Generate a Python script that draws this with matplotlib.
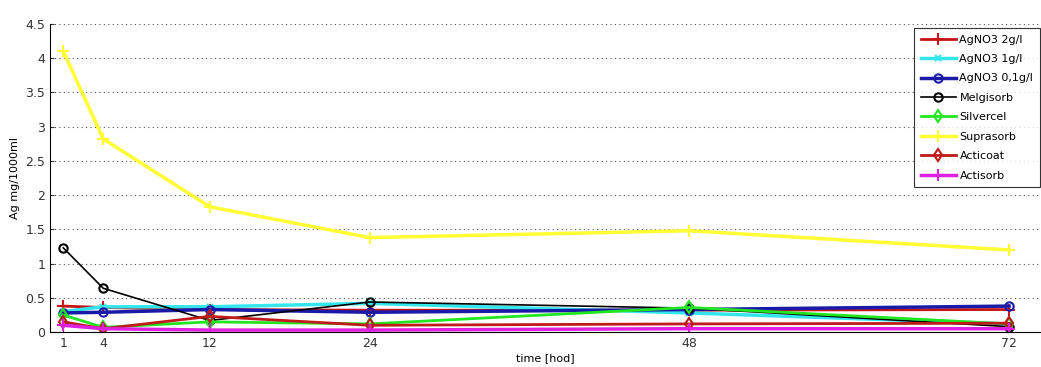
import matplotlib
matplotlib.use("Agg")
import matplotlib.pyplot as plt

# ── data ──────────────────────────────────────────────────────────────────────
hours = [1, 4, 12, 24, 48, 72]

agno3_2 = [0.38, 0.36, 0.33, 0.32, 0.32, 0.33]
agno3_1 = [0.30, 0.37, 0.37, 0.42, 0.28, 0.12]
agno3_01 = [0.28, 0.29, 0.33, 0.29, 0.33, 0.38]
melgisorb = [1.23, 0.64, 0.17, 0.44, 0.35, 0.08]
silvercel = [0.25, 0.07, 0.15, 0.12, 0.36, 0.12]
suprasorb = [4.10, 2.82, 1.83, 1.38, 1.48, 1.20]
acticoat = [0.15, 0.05, 0.23, 0.10, 0.12, 0.13]
actisorb = [0.10, 0.05, 0.03, 0.03, 0.05, 0.05]

names = ["AgNO3 2g/l", "AgNO3 1g/l", "AgNO3 0,1g/l", "Melgisorb",
         "Silvercel", "Suprasorb", "Acticoat", "Actisorb"]
series = [agno3_2, agno3_1, agno3_01, melgisorb,
          silvercel, suprasorb, acticoat, actisorb]

styles = [
    dict(color="#c81414", marker="+", lw=2.0, ms=8),
    dict(color="#33e6ee", marker="x", lw=2.5, ms=5),
    dict(color="#1a1aa8", marker="o", lw=2.5, ms=6, mfc="none"),
    dict(color="black", marker="o", lw=1.2, ms=6, mfc="none"),
    dict(color="#22e622", marker="d", lw=2.0, ms=6, mfc="none"),
    dict(color="#ffff33", marker="+", lw=2.5, ms=9),
    dict(color="#c01a1a", marker="d", lw=2.0, ms=6, mfc="none"),
    dict(color="#e020e0", marker="+", lw=2.5, ms=8),
]

fig = plt.figure(figsize=(10.41, 3.67), dpi=100)
ax = fig.add_axes([0.048, 0.095, 0.952, 0.84])

for name, vals, st in zip(names, series, styles):
    ax.plot(hours, vals, label=name, mew=1.5, **st)

ax.set_xlim(0, 74.4)
ax.set_ylim(0, 4.5)
ax.set_xticks(hours)
ax.set_yticks([0, 0.5, 1, 1.5, 2, 2.5, 3, 3.5, 4, 4.5])
ax.set_yticklabels(["0", "0.5", "1", "1.5", "2", "2.5", "3", "3.5", "4", "4.5"])
ax.tick_params(labelsize=9, direction="in", length=3, colors="#333333")
ax.yaxis.grid(True, linestyle=(0, (1, 3)), color="#555555", lw=0.8)
ax.spines["top"].set_visible(False)
ax.spines["right"].set_visible(False)

ax.set_xlabel("time [hod]", fontsize=8, labelpad=2)
ax.set_ylabel("Ag mg/1000ml", fontsize=8, labelpad=4)

leg = ax.legend(loc="upper right", bbox_to_anchor=(0.999, 0.987), fontsize=8,
                frameon=True, fancybox=False, edgecolor="black",
                borderaxespad=0, handlelength=3.2, handletextpad=0.3,
                borderpad=0.6, labelspacing=0.85)
leg.get_frame().set_linewidth(0.8)

fig.savefig("out.png", dpi=100)
